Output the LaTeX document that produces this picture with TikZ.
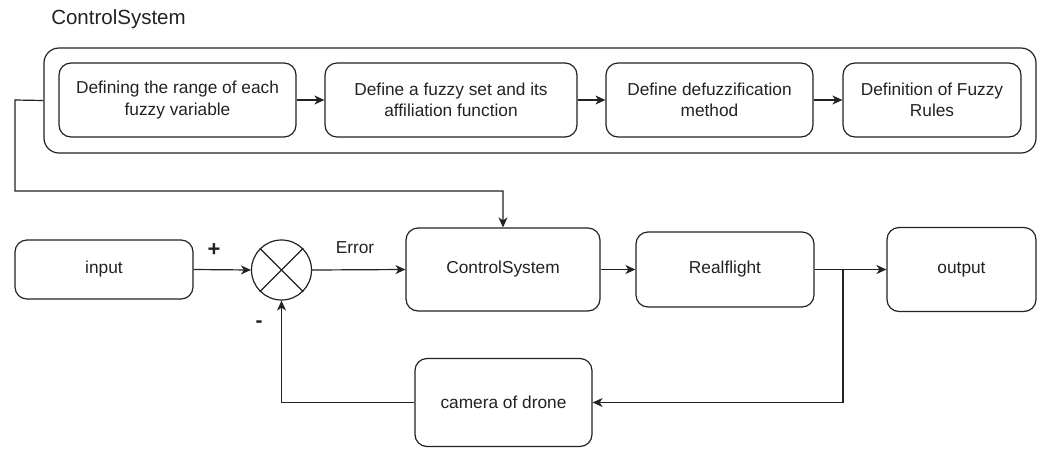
\documentclass[tikz,border=0pt]{standalone}
\usepackage{fontspec}
\setmainfont{Liberation Sans}
\usetikzlibrary{arrows.meta}
\definecolor{ink}{RGB}{34,34,34}
\begin{document}
\begin{tikzpicture}[x=1pt,y=-1pt,
  line width=1.2pt, draw=ink, text=ink,
  boxtext/.style={font=\fontsize{17.3}{21.6}\selectfont, align=center},
  blk/.style={draw=ink, rounded corners=12pt, inner sep=0pt, boxtext},
  arr/.style={-{Stealth[length=10pt,width=9pt,inset=3pt]}, draw=ink},
  wire/.style={draw=ink}]
\useasboundingbox (0,0) rectangle (1042,448);
% title
\node[font=\fontsize{20.5}{24}\selectfont, text=ink] (title) at (118.5,19) {ControlSystem};
% outer container
\node[draw=ink, rounded corners=15pt, minimum width=992pt, minimum height=105pt, inner sep=0pt] (outer) at (540,100.5) {};
% inner steps
\node[blk, minimum width=237pt, minimum height=74pt] (b1) at (177.5,100) {Defining the range of each\\fuzzy variable};
\node[blk, minimum width=252pt, minimum height=74pt] (b2) at (451,100) {Define a fuzzy set and its\\affiliation function};
\node[blk, minimum width=207pt, minimum height=74pt] (b3) at (709.5,100) {Define defuzzification\\method};
\node[blk, minimum width=178pt, minimum height=74pt] (b4) at (932,100) {Definition of Fuzzy\\Rules};
\draw[arr] (b1.east) -- (b2.west);
\draw[arr] (b2.east) -- (b3.west);
\draw[arr] (b3.east) -- (b4.west);
% lower row
\node[blk, minimum width=178pt, minimum height=59pt] (input) at (104,269.5) {input};
\node[draw=ink, circle, minimum size=60pt, inner sep=0pt] (sum) at (281.5,270) {};
\draw[wire] (sum.north west) -- (sum.south east);
\draw[wire] (sum.north east) -- (sum.south west);
\node[blk, minimum width=194pt, minimum height=83pt] (ctrl) at (503,269.5) {ControlSystem};
\node[blk, minimum width=178pt, minimum height=75pt] (real) at (725,269.5) {Realflight};
\node[blk, minimum width=149pt, minimum height=84pt] (out) at (961.5,269.5) {output};
\node[blk, minimum width=177pt, minimum height=88pt] (cam) at (503.5,402.5) {camera of drone};
% labels
\node[font=\fontsize{22}{24}\selectfont\bfseries, text=ink] (plus) at (214,250) {+};
\node[font=\fontsize{21}{24}\selectfont\bfseries, text=ink] (minus) at (259,324) {-};
\node[boxtext, text=ink] (err) at (355,248) {Error};
% connectors
\draw[arr] (input.east) -- (sum.west);
\draw[arr] (sum.east) -- (ctrl.west);
\draw[arr] (ctrl.east) -- (real.west);
\draw[arr] (real.east) -- (out.west);
\coordinate (split) at (843,269.5);
\draw[arr] (split) |- (cam.east);
\draw[arr] (cam.west) -| (sum.south);
\coordinate (fb1) at (15,100);
\coordinate (fb2) at (15,191);
\draw[arr] (outer.west) -- (fb1) -- (fb2) -| (ctrl.north);
\end{tikzpicture}
\end{document}
